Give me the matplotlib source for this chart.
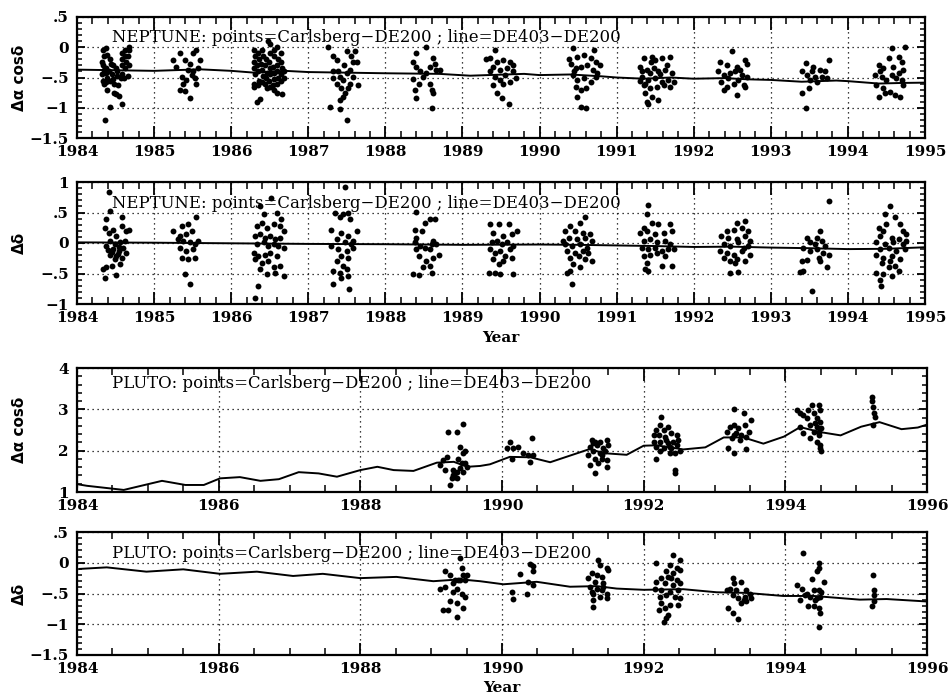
import matplotlib
matplotlib.use('Agg')
import matplotlib.pyplot as plt
from matplotlib.ticker import MultipleLocator, FuncFormatter
from matplotlib.font_manager import FontProperties

# ---------------- DATA ----------------
# Panel 1: Neptune, delta alpha cos delta (points = Carlsberg - DE200)
nep_ra_pts = [
    (1984.34, -0.05), (1984.35, -0.15), (1984.33, -0.25), (1984.34, -0.30), (1984.35, -0.38), (1984.33, -0.45),
    (1984.34, -0.55), (1984.35, -0.60), (1984.38, -0.02), (1984.39, -0.12), (1984.38, -0.35), (1984.37, -0.42),
    (1984.39, -0.50), (1984.38, -0.58), (1984.39, -0.70), (1984.36, -1.21), (1984.43, -0.98), (1984.43, -0.20),
    (1984.44, -0.28), (1984.42, -0.40), (1984.43, -0.55), (1984.47, -0.30), (1984.46, -0.45), (1984.47, -0.52),
    (1984.48, -0.60), (1984.48, -0.75), (1984.50, -0.78), (1984.52, -0.40), (1984.52, -0.48), (1984.53, -0.62),
    (1984.51, -0.35), (1984.54, -0.80), (1984.58, -0.93), (1984.58, -0.10), (1984.58, -0.20), (1984.59, -0.30),
    (1984.58, -0.45), (1984.57, -0.50), (1984.62, -0.05), (1984.62, -0.15), (1984.63, -0.25), (1984.62, -0.35),
    (1984.61, -0.50), (1984.67, 0.00), (1984.67, -0.05), (1984.66, -0.15), (1984.67, -0.30), (1984.66, -0.48),
    (1985.34, -0.10), (1985.40, -0.21), (1985.29, -0.32), (1985.47, -0.27), (1985.51, -0.10), (1985.55, -0.05),
    (1985.36, -0.49), (1985.42, -0.54), (1985.49, -0.46), (1985.53, -0.51), (1985.34, -0.71), (1985.40, -0.73),
    (1985.47, -0.84), (1985.57, -0.35), (1985.59, -0.21), (1985.25, -0.21), (1985.44, -0.37), (1985.38, -0.60),
    (1985.55, -0.60), (1985.51, -0.40),
    (1986.30, -0.05), (1986.31, -0.15), (1986.29, -0.25), (1986.30, -0.35), (1986.31, -0.45), (1986.30, -0.60),
    (1986.29, -0.65), (1986.35, -0.10), (1986.36, -0.20), (1986.34, -0.30), (1986.35, -0.40), (1986.36, -0.55),
    (1986.35, -0.62), (1986.34, -0.90), (1986.40, -0.05), (1986.41, -0.15), (1986.39, -0.28), (1986.40, -0.38),
    (1986.41, -0.48), (1986.40, -0.58), (1986.38, -0.85), (1986.45, -0.20), (1986.44, -0.30), (1986.46, -0.42),
    (1986.45, -0.50), (1986.44, -0.60), (1986.46, -0.68), (1986.48, 0.10), (1986.50, 0.05), (1986.51, -0.10),
    (1986.49, -0.25), (1986.50, -0.35), (1986.51, -0.45), (1986.49, -0.55), (1986.50, -0.65), (1986.55, -0.05),
    (1986.56, -0.15), (1986.54, -0.32), (1986.55, -0.42), (1986.56, -0.52), (1986.54, -0.62), (1986.55, -0.70),
    (1986.60, 0.00), (1986.61, -0.20), (1986.59, -0.30), (1986.60, -0.40), (1986.61, -0.50), (1986.59, -0.60),
    (1986.60, -0.75), (1986.65, -0.10), (1986.64, -0.25), (1986.66, -0.35), (1986.65, -0.45), (1986.64, -0.55),
    (1986.66, -0.78), (1986.68, -0.40), (1986.68, -0.50),
    (1987.28, -0.98), (1987.41, -1.02), (1987.50, -1.20), (1987.41, -0.87), (1987.45, -0.82), (1987.26, 0.00),
    (1987.32, -0.15), (1987.37, -0.21), (1987.50, -0.07), (1987.61, -0.07), (1987.63, -0.24), (1987.58, -0.24),
    (1987.32, -0.40), (1987.41, -0.49), (1987.45, -0.54), (1987.50, -0.43), (1987.54, -0.60), (1987.58, -0.49),
    (1987.65, -0.62), (1987.37, -0.60), (1987.43, -0.68), (1987.52, -0.68), (1987.48, -0.76), (1987.39, -0.40),
    (1987.54, -0.37), (1987.32, -0.51), (1987.46, -0.30), (1987.56, -0.15),
    (1988.40, -0.10), (1988.36, -0.24), (1988.40, -0.32), (1988.45, -0.40), (1988.36, -0.52), (1988.43, -0.60),
    (1988.38, -0.71), (1988.40, -0.84), (1988.53, 0.00), (1988.58, -0.32), (1988.62, -0.18), (1988.64, -0.27),
    (1988.66, -0.37), (1988.58, -0.60), (1988.60, -0.71), (1988.62, -0.76), (1988.60, -1.00), (1988.49, -0.49),
    (1988.53, -0.43), (1988.71, -0.37),
    (1989.42, -0.05), (1989.36, -0.18), (1989.45, -0.24), (1989.53, -0.21), (1989.62, -0.24), (1989.40, -0.32),
    (1989.49, -0.37), (1989.58, -0.35), (1989.66, -0.29), (1989.42, -0.49), (1989.49, -0.54), (1989.55, -0.46),
    (1989.62, -0.57), (1989.66, -0.40), (1989.40, -0.62), (1989.45, -0.76), (1989.51, -0.84), (1989.60, -0.94),
    (1989.36, -0.40), (1989.53, -0.60), (1989.30, -0.20), (1989.70, -0.50),
    (1990.43, -0.02), (1990.71, -0.04), (1990.49, -0.16), (1990.58, -0.13), (1990.67, -0.18), (1990.73, -0.24),
    (1990.41, -0.27), (1990.47, -0.35), (1990.54, -0.32), (1990.62, -0.29), (1990.69, -0.37), (1990.75, -0.43),
    (1990.43, -0.46), (1990.49, -0.54), (1990.58, -0.51), (1990.67, -0.57), (1990.73, -0.49), (1990.47, -0.65),
    (1990.54, -0.71), (1990.60, -0.68), (1990.49, -0.82), (1990.54, -0.98), (1990.60, -1.01), (1990.45, -0.40),
    (1990.38, -0.20), (1990.78, -0.30),
    (1991.35, -0.18), (1991.46, -0.16), (1991.50, -0.21), (1991.59, -0.18), (1991.69, -0.16), (1991.30, -0.32),
    (1991.39, -0.37), (1991.48, -0.35), (1991.54, -0.40), (1991.63, -0.37), (1991.72, -0.43), (1991.33, -0.49),
    (1991.41, -0.54), (1991.50, -0.51), (1991.59, -0.57), (1991.67, -0.54), (1991.35, -0.62), (1991.43, -0.68),
    (1991.52, -0.65), (1991.61, -0.62), (1991.37, -0.76), (1991.46, -0.82), (1991.39, -0.90), (1991.41, -0.94),
    (1991.54, -0.87), (1991.65, -0.29), (1991.74, -0.57), (1991.43, -0.43), (1991.33, -0.40), (1991.69, -0.65),
    (1991.37, -0.60), (1991.45, -0.25), (1991.56, -0.45), (1991.30, -0.55),
    (1992.49, -0.06), (1992.34, -0.24), (1992.43, -0.29), (1992.56, -0.32), (1992.67, -0.21), (1992.69, -0.27),
    (1992.32, -0.40), (1992.39, -0.46), (1992.47, -0.43), (1992.54, -0.40), (1992.62, -0.46), (1992.69, -0.49),
    (1992.36, -0.57), (1992.43, -0.65), (1992.52, -0.60), (1992.58, -0.54), (1992.65, -0.62), (1992.39, -0.71),
    (1992.56, -0.79), (1992.67, -0.66), (1992.45, -0.51), (1992.60, -0.37),
    (1993.45, -0.26), (1993.40, -0.40), (1993.47, -0.46), (1993.53, -0.40), (1993.57, -0.49), (1993.64, -0.37),
    (1993.70, -0.40), (1993.75, -0.21), (1993.51, -0.54), (1993.60, -0.57), (1993.49, -0.68), (1993.40, -0.76),
    (1993.45, -1.00), (1993.66, -0.49), (1993.55, -0.32), (1993.73, -0.51),
    (1994.57, -0.01), (1994.74, 0.00), (1994.53, -0.18), (1994.66, -0.16), (1994.70, -0.24), (1994.40, -0.29),
    (1994.46, -0.35), (1994.59, -0.32), (1994.72, -0.37), (1994.35, -0.46), (1994.44, -0.49), (1994.50, -0.54),
    (1994.57, -0.46), (1994.63, -0.51), (1994.70, -0.54), (1994.37, -0.62), (1994.46, -0.68), (1994.55, -0.74),
    (1994.61, -0.79), (1994.68, -0.82), (1994.40, -0.82), (1994.48, -0.76), (1994.72, -0.62), (1994.42, -0.40),
    (1994.66, -0.43),
]
nep_ra_line_t = [1984.0, 1984.5, 1985.0, 1985.6, 1986.0, 1986.3, 1986.7, 1987.0, 1987.5, 1988.0, 1988.7,
                 1989.1, 1989.8, 1990.0, 1990.4, 1990.8, 1991.0, 1991.35, 1991.7, 1992.0, 1992.4, 1992.7,
                 1993.0, 1993.4, 1993.85, 1994.0, 1994.4, 1994.7, 1995.0]
nep_ra_line_v = [-0.37, -0.38, -0.39, -0.365, -0.39, -0.42, -0.39, -0.41, -0.42, -0.43, -0.44,
                 -0.47, -0.44, -0.46, -0.45, -0.48, -0.50, -0.52, -0.50, -0.52, -0.51, -0.53,
                 -0.54, -0.57, -0.55, -0.56, -0.60, -0.59, -0.585]

# Panel 2: Neptune, delta delta
nep_de_pts = [
    (1984.41, 0.84), (1984.43, 0.52), (1984.38, 0.39), (1984.58, 0.42), (1984.36, 0.25), (1984.47, 0.22),
    (1984.58, 0.28), (1984.64, 0.20), (1984.67, 0.22), (1984.41, 0.17), (1984.51, 0.11), (1984.43, 0.03),
    (1984.49, -0.02), (1984.56, 0.01), (1984.62, 0.03), (1984.38, -0.05), (1984.47, -0.10), (1984.54, -0.13),
    (1984.60, -0.09), (1984.64, -0.16), (1984.43, -0.19), (1984.51, -0.21), (1984.58, -0.24), (1984.49, -0.27),
    (1984.38, -0.40), (1984.45, -0.38), (1984.56, -0.35), (1984.36, -0.57), (1984.51, -0.52), (1984.34, -0.43),
    (1984.45, -0.15), (1984.53, -0.18), (1984.40, -0.12), (1984.55, -0.06),
    (1985.25, 0.20), (1985.36, 0.28), (1985.44, 0.31), (1985.55, 0.43), (1985.34, 0.11), (1985.42, 0.14),
    (1985.49, 0.20), (1985.38, 0.03), (1985.47, 0.01), (1985.53, -0.02), (1985.34, -0.08), (1985.42, -0.13),
    (1985.51, -0.10), (1985.36, -0.24), (1985.44, -0.27), (1985.53, -0.24), (1985.40, -0.50), (1985.47, -0.67),
    (1985.31, 0.06), (1985.57, 0.03),
    (1986.31, -0.90), (1986.35, -0.70), (1986.37, 0.61), (1986.42, 0.47), (1986.52, 0.74), (1986.59, 0.50),
    (1986.65, 0.39), (1986.33, 0.28), (1986.40, 0.33), (1986.46, 0.25), (1986.55, 0.31), (1986.63, 0.28),
    (1986.68, 0.20), (1986.31, 0.11), (1986.37, 0.14), (1986.44, 0.09), (1986.50, 0.11), (1986.57, 0.06),
    (1986.63, 0.09), (1986.33, -0.02), (1986.42, 0.01), (1986.48, -0.05), (1986.55, -0.02), (1986.61, -0.05),
    (1986.68, -0.08), (1986.29, -0.16), (1986.35, -0.21), (1986.44, -0.19), (1986.50, -0.16), (1986.59, -0.21),
    (1986.31, -0.27), (1986.40, -0.32), (1986.48, -0.30), (1986.55, -0.40), (1986.63, -0.38), (1986.37, -0.43),
    (1986.46, -0.51), (1986.57, -0.49), (1986.68, -0.54),
    (1987.48, 0.91), (1987.35, 0.50), (1987.45, 0.48), (1987.54, 0.39), (1987.41, 0.42), (1987.52, 0.50),
    (1987.30, 0.22), (1987.63, 0.20), (1987.43, 0.17), (1987.52, 0.11), (1987.37, 0.06), (1987.48, 0.01),
    (1987.56, -0.02), (1987.30, -0.05), (1987.39, -0.10), (1987.50, -0.13), (1987.58, -0.09), (1987.43, -0.21),
    (1987.52, -0.24), (1987.37, -0.30), (1987.45, -0.38), (1987.32, -0.46), (1987.41, -0.49), (1987.50, -0.43),
    (1987.43, -0.57), (1987.52, -0.54), (1987.32, -0.67), (1987.53, -0.75), (1987.58, 0.03),
    (1988.40, 0.51), (1988.51, 0.33), (1988.58, 0.39), (1988.64, 0.40), (1988.38, 0.22), (1988.47, 0.20),
    (1988.40, 0.09), (1988.38, 0.01), (1988.45, -0.05), (1988.40, -0.10), (1988.51, -0.08), (1988.62, 0.03),
    (1988.66, -0.02), (1988.58, -0.10), (1988.43, -0.21), (1988.62, -0.24), (1988.69, -0.19), (1988.53, -0.30),
    (1988.49, -0.40), (1988.58, -0.38), (1988.36, -0.51), (1988.43, -0.52), (1988.60, -0.49), (1988.60, -0.02),
    (1989.36, 0.31), (1989.47, 0.31), (1989.60, 0.31), (1989.40, 0.17), (1989.53, 0.11), (1989.64, 0.14),
    (1989.71, 0.19), (1989.38, 0.01), (1989.45, 0.03), (1989.51, -0.02), (1989.58, 0.01), (1989.66, -0.05),
    (1989.36, -0.10), (1989.42, -0.16), (1989.49, -0.13), (1989.55, -0.21), (1989.64, -0.24), (1989.40, -0.27),
    (1989.53, -0.30), (1989.42, -0.49), (1989.49, -0.50), (1989.66, -0.50), (1989.34, -0.49), (1989.62, -0.10),
    (1989.47, -0.35),
    (1990.59, 0.42), (1990.53, 0.33), (1990.40, 0.28), (1990.33, 0.20), (1990.46, 0.20), (1990.57, 0.17),
    (1990.66, 0.14), (1990.38, 0.09), (1990.48, 0.06), (1990.59, 0.09), (1990.68, 0.03), (1990.33, -0.02),
    (1990.42, -0.05), (1990.53, -0.02), (1990.61, -0.08), (1990.35, -0.13), (1990.46, -0.16), (1990.57, -0.13),
    (1990.40, -0.24), (1990.51, -0.21), (1990.59, -0.27), (1990.68, -0.30), (1990.44, -0.35), (1990.53, -0.40),
    (1990.35, -0.49), (1990.40, -0.46), (1990.42, -0.67), (1990.63, -0.16), (1990.31, 0.03),
    (1991.41, 0.63), (1991.39, 0.47), (1991.35, 0.25), (1991.46, 0.33), (1991.54, 0.31), (1991.69, 0.31),
    (1991.30, 0.17), (1991.39, 0.20), (1991.50, 0.14), (1991.61, 0.17), (1991.72, 0.20), (1991.35, 0.03),
    (1991.43, 0.06), (1991.52, 0.01), (1991.63, 0.03), (1991.69, -0.02), (1991.33, -0.08), (1991.41, -0.10),
    (1991.50, -0.08), (1991.59, -0.13), (1991.67, -0.10), (1991.35, -0.21), (1991.43, -0.19), (1991.52, -0.16),
    (1991.63, -0.21), (1991.39, -0.32), (1991.37, -0.43), (1991.41, -0.46), (1991.59, -0.38), (1991.72, -0.38),
    (1991.74, -0.10),
    (1992.56, 0.33), (1992.67, 0.36), (1992.43, 0.20), (1992.52, 0.22), (1992.62, 0.25), (1992.71, 0.20),
    (1992.36, 0.11), (1992.45, 0.09), (1992.56, 0.06), (1992.67, 0.11), (1992.73, 0.03), (1992.39, -0.02),
    (1992.47, -0.05), (1992.58, 0.01), (1992.65, -0.08), (1992.71, -0.05), (1992.34, -0.13), (1992.43, -0.16),
    (1992.52, -0.19), (1992.62, -0.13), (1992.73, -0.19), (1992.39, -0.24), (1992.47, -0.30), (1992.56, -0.27),
    (1992.67, -0.30), (1992.47, -0.49), (1992.58, -0.47), (1992.54, -0.32),
    (1993.75, 0.69), (1993.64, 0.19), (1993.60, 0.09), (1993.47, 0.09), (1993.51, 0.01), (1993.57, -0.02),
    (1993.66, 0.03), (1993.42, -0.08), (1993.51, -0.13), (1993.60, -0.10), (1993.68, -0.16), (1993.75, -0.19),
    (1993.40, -0.30), (1993.47, -0.28), (1993.62, -0.24), (1993.64, -0.30), (1993.73, -0.40), (1993.38, -0.47),
    (1993.42, -0.46), (1993.53, -0.79), (1993.70, -0.05),
    (1994.55, 0.61), (1994.48, 0.47), (1994.61, 0.42), (1994.50, 0.31), (1994.68, 0.31), (1994.40, 0.25),
    (1994.46, 0.20), (1994.72, 0.19), (1994.76, 0.14), (1994.42, 0.11), (1994.57, 0.09), (1994.66, 0.06),
    (1994.37, 0.01), (1994.48, -0.02), (1994.59, 0.01), (1994.72, -0.02), (1994.76, 0.03), (1994.42, -0.10),
    (1994.53, -0.08), (1994.63, -0.13), (1994.74, -0.10), (1994.37, -0.19), (1994.46, -0.24), (1994.57, -0.21),
    (1994.68, -0.27), (1994.44, -0.32), (1994.61, -0.38), (1994.53, -0.40), (1994.37, -0.49), (1994.46, -0.51),
    (1994.57, -0.54), (1994.66, -0.46), (1994.42, -0.60), (1994.43, -0.70), (1994.55, -0.30),
]
nep_de_line_t = [1984.0, 1985.0, 1986.0, 1987.0, 1988.0, 1989.0, 1990.0, 1990.5, 1991.0, 1991.5,
                 1992.0, 1992.5, 1993.0, 1993.5, 1994.0, 1994.5, 1995.0]
nep_de_line_v = [0.01, 0.005, -0.005, -0.015, -0.02, -0.03, -0.025, -0.03, -0.04, -0.05,
                 -0.065, -0.06, -0.075, -0.085, -0.10, -0.095, -0.07]

# Panel 3: Pluto, delta alpha cos delta
plu_ra_pts = [
    (1989.12, 1.65), (1989.17, 1.77), (1989.22, 1.85), (1989.20, 1.53), (1989.24, 2.44), (1989.37, 2.44),
    (1989.45, 2.64), (1989.27, 1.17), (1989.31, 1.41), (1989.34, 1.37), (1989.36, 1.49), (1989.41, 1.57),
    (1989.43, 1.69), (1989.38, 1.81), (1989.48, 1.69), (1989.45, 1.94), (1989.41, 2.10), (1989.48, 1.98),
    (1989.31, 1.53), (1989.45, 1.49), (1989.29, 1.33), (1989.50, 1.61), (1989.36, 1.33),
    (1990.11, 2.22), (1990.23, 2.10), (1990.16, 2.06), (1990.14, 1.81), (1990.42, 2.31), (1990.30, 1.94),
    (1990.37, 1.90), (1990.40, 1.73), (1990.44, 1.90), (1990.07, 2.06),
    (1991.27, 2.26), (1991.31, 2.22), (1991.38, 2.22), (1991.48, 2.26), (1991.24, 2.10), (1991.34, 2.14),
    (1991.43, 2.06), (1991.50, 2.14), (1991.29, 1.98), (1991.38, 1.94), (1991.45, 1.98), (1991.22, 1.90),
    (1991.31, 1.81), (1991.41, 1.81), (1991.48, 1.77), (1991.24, 1.65), (1991.36, 1.69), (1991.48, 1.61),
    (1991.31, 1.45), (1991.41, 1.90), (1991.29, 2.18),
    (1992.25, 2.82), (1992.23, 2.62), (1992.18, 2.50), (1992.28, 2.50), (1992.35, 2.58), (1992.14, 2.38),
    (1992.21, 2.38), (1992.30, 2.34), (1992.39, 2.42), (1992.47, 2.38), (1992.14, 2.22), (1992.23, 2.22),
    (1992.32, 2.26), (1992.42, 2.22), (1992.49, 2.26), (1992.18, 2.10), (1992.28, 2.06), (1992.37, 2.10),
    (1992.47, 2.14), (1992.51, 1.98), (1992.23, 1.98), (1992.37, 1.94), (1992.18, 1.81), (1992.44, 1.94),
    (1992.44, 1.53), (1992.44, 1.45), (1992.35, 2.18), (1992.39, 2.06),
    (1993.27, 3.02), (1993.41, 2.90), (1993.52, 2.74), (1993.17, 2.46), (1993.22, 2.58), (1993.27, 2.62),
    (1993.33, 2.54), (1993.43, 2.62), (1993.31, 2.42), (1993.38, 2.38), (1993.48, 2.46), (1993.24, 2.30),
    (1993.36, 2.26), (1993.45, 2.34), (1993.19, 2.06), (1993.27, 1.94), (1993.45, 2.04), (1993.28, 2.38),
    (1994.16, 2.98), (1994.21, 2.90), (1994.25, 2.86), (1994.37, 3.10), (1994.47, 3.10), (1994.49, 2.98),
    (1994.30, 2.78), (1994.40, 2.90), (1994.44, 2.78), (1994.49, 2.70), (1994.21, 2.58), (1994.35, 2.62),
    (1994.44, 2.58), (1994.51, 2.54), (1994.25, 2.42), (1994.40, 2.46), (1994.47, 2.38), (1994.35, 2.30),
    (1994.44, 2.22), (1994.49, 2.14), (1994.51, 1.98), (1994.49, 2.06), (1994.42, 2.66), (1994.32, 2.98),
    (1994.47, 2.46),
    (1995.22, 3.31), (1995.23, 3.19), (1995.24, 3.06), (1995.25, 2.90), (1995.26, 2.82), (1995.24, 2.62),
]
plu_ra_line_t = [1984.0, 1984.14, 1984.66, 1985.2, 1985.53, 1985.79, 1986.02, 1986.3, 1986.59, 1986.85,
                 1987.13, 1987.41, 1987.67, 1988.0, 1988.24, 1988.47, 1988.75, 1989.08, 1989.32, 1989.51,
                 1989.69, 1989.83, 1990.11, 1990.4, 1990.68, 1990.96, 1991.24, 1991.43, 1991.76, 1992.0,
                 1992.18, 1992.56, 1992.87, 1993.13, 1993.41, 1993.69, 1993.98, 1994.21, 1994.49, 1994.78,
                 1995.07, 1995.33, 1995.64, 1995.87, 1996.0]
plu_ra_line_v = [1.19, 1.15, 1.05, 1.27, 1.17, 1.17, 1.33, 1.36, 1.27, 1.31,
                 1.48, 1.45, 1.37, 1.53, 1.61, 1.53, 1.51, 1.71, 1.73, 1.61,
                 1.63, 1.67, 1.85, 1.84, 1.72, 1.88, 2.04, 1.94, 1.90, 2.12,
                 2.13, 2.03, 2.08, 2.32, 2.32, 2.17, 2.34, 2.57, 2.45, 2.37,
                 2.58, 2.69, 2.52, 2.56, 2.63]

# Panel 4: Pluto, delta delta
plu_de_pts = [
    (1989.20, -0.13), (1989.27, -0.20), (1989.12, -0.42), (1989.20, -0.39), (1989.31, -0.33), (1989.38, -0.28),
    (1989.45, -0.20), (1989.50, -0.20), (1989.41, 0.07), (1989.43, -0.09), (1989.36, -0.42), (1989.43, -0.50),
    (1989.48, -0.55), (1989.31, -0.47), (1989.27, -0.63), (1989.36, -0.66), (1989.17, -0.77), (1989.24, -0.77),
    (1989.36, -0.88), (1989.45, -0.74), (1989.41, -0.28), (1989.34, -0.28), (1989.48, -0.28),
    (1990.14, -0.47), (1990.15, -0.59), (1990.25, -0.18), (1990.35, -0.50), (1990.40, -0.02), (1990.44, -0.06),
    (1990.44, -0.14), (1990.44, -0.36), (1990.36, -0.32),
    (1991.36, 0.04), (1991.38, -0.04), (1991.48, -0.09), (1991.50, -0.12), (1991.27, -0.17), (1991.34, -0.20),
    (1991.41, -0.23), (1991.22, -0.25), (1991.31, -0.31), (1991.43, -0.33), (1991.24, -0.39), (1991.34, -0.42),
    (1991.43, -0.39), (1991.48, -0.50), (1991.29, -0.50), (1991.38, -0.55), (1991.48, -0.58), (1991.29, -0.60),
    (1991.29, -0.72), (1991.27, -0.47), (1991.41, -0.44),
    (1992.42, 0.13), (1992.18, 0.00), (1992.51, 0.05), (1992.37, -0.04), (1992.47, -0.09), (1992.32, -0.14),
    (1992.42, -0.17), (1992.51, -0.12), (1992.25, -0.25), (1992.35, -0.23), (1992.47, -0.28), (1992.18, -0.31),
    (1992.30, -0.33), (1992.42, -0.36), (1992.51, -0.33), (1992.16, -0.43), (1992.25, -0.44), (1992.37, -0.47),
    (1992.49, -0.44), (1992.23, -0.55), (1992.32, -0.52), (1992.44, -0.55), (1992.51, -0.58), (1992.25, -0.66),
    (1992.37, -0.69), (1992.49, -0.69), (1992.21, -0.77), (1992.30, -0.74), (1992.32, -0.90), (1992.28, -0.96),
    (1992.35, -0.85), (1992.39, -0.25),
    (1993.26, -0.25), (1993.28, -0.33), (1993.38, -0.31), (1993.17, -0.44), (1993.22, -0.42), (1993.31, -0.44),
    (1993.26, -0.52), (1993.33, -0.58), (1993.45, -0.44), (1993.50, -0.50), (1993.43, -0.55), (1993.52, -0.58),
    (1993.38, -0.66), (1993.45, -0.63), (1993.19, -0.74), (1993.26, -0.82), (1993.33, -0.92), (1993.41, -0.60),
    (1994.25, 0.16), (1994.47, -0.01), (1994.47, -0.09), (1994.44, -0.13), (1994.37, -0.27), (1994.54, -0.32),
    (1994.16, -0.36), (1994.23, -0.42), (1994.30, -0.50), (1994.40, -0.44), (1994.47, -0.44), (1994.51, -0.47),
    (1994.21, -0.60), (1994.35, -0.55), (1994.44, -0.58), (1994.49, -0.55), (1994.32, -0.71), (1994.40, -0.71),
    (1994.47, -0.74), (1994.49, -0.82), (1994.47, -1.04), (1994.28, -0.52), (1994.42, -0.60),
    (1995.24, -0.20), (1995.25, -0.44), (1995.25, -0.53), (1995.25, -0.62), (1995.23, -0.71),
]
plu_de_line_t = [1984.04, 1984.42, 1984.98, 1985.5, 1986.02, 1986.54, 1987.05, 1987.47, 1988.0, 1988.51,
                 1989.03, 1989.41, 1989.69, 1990.02, 1990.49, 1990.96, 1991.34, 1991.62, 1992.0, 1992.56,
                 1993.03, 1993.45, 1993.97, 1994.4, 1995.05, 1995.43, 1996.0]
plu_de_line_v = [-0.10, -0.075, -0.145, -0.107, -0.18, -0.145, -0.215, -0.18, -0.25, -0.23,
                 -0.30, -0.27, -0.30, -0.35, -0.31, -0.39, -0.38, -0.42, -0.44, -0.43,
                 -0.48, -0.49, -0.54, -0.54, -0.60, -0.59, -0.63]

titles = ["NEPTUNE: points=Carlsberg\u2212DE200 ; line=DE403\u2212DE200",
          "NEPTUNE: points=Carlsberg\u2212DE200 ; line=DE403\u2212DE200",
          "PLUTO: points=Carlsberg\u2212DE200 ; line=DE403\u2212DE200",
          "PLUTO: points=Carlsberg\u2212DE200 ; line=DE403\u2212DE200"]
ylabels = ["\u0394\u03b1 cos\u03b4", "\u0394\u03b4", "\u0394\u03b1 cos\u03b4", "\u0394\u03b4"]

# ---------------- PLOT ----------------
W, H = 950, 696
fig = plt.figure(figsize=(W / 100, H / 100), dpi=100)

TICKFONT = FontProperties(family='DejaVu Serif', weight='bold', size=11)


def yfmt(v, pos):
    if abs(v) < 1e-9:
        return '0'
    s = '%g' % v
    if s.startswith('0.'):
        s = s[1:]
    elif s.startswith('-0.'):
        s = '-' + s[2:]
    return s.replace('-', '\u2212')


def make_ax(px_left, px_top, px_right, px_bottom):
    return fig.add_axes([px_left / W, 1 - px_bottom / H,
                         (px_right - px_left) / W, (px_bottom - px_top) / H])


panels = [
    dict(box=(77, 17, 925, 138), xlim=(1984, 1995), ylim=(-1.5, 0.5), xmaj=1, xmin=0.2, ymaj=0.5, ymin=0.1,
         pts=nep_ra_pts, lt=nep_ra_line_t, lv=nep_ra_line_v, ty=0.79, xlabel=False),
    dict(box=(77, 182, 925, 304), xlim=(1984, 1995), ylim=(-1, 1), xmaj=1, xmin=0.2, ymaj=0.5, ymin=0.1,
         pts=nep_de_pts, lt=nep_de_line_t, lv=nep_de_line_v, ty=0.79, xlabel=True),
    dict(box=(77, 368, 927, 492), xlim=(1984, 1996), ylim=(1, 4), xmaj=2, xmin=0.5, ymaj=1, ymin=0.2,
         pts=plu_ra_pts, lt=plu_ra_line_t, lv=plu_ra_line_v, ty=0.835, xlabel=False),
    dict(box=(77, 532, 927, 655), xlim=(1984, 1996), ylim=(-1.5, 0.5), xmaj=2, xmin=0.5, ymaj=0.5, ymin=0.1,
         pts=plu_de_pts, lt=plu_de_line_t, lv=plu_de_line_v, ty=0.79, xlabel=True),
]

for i, p in enumerate(panels):
    ax = make_ax(*p['box'])
    ax.set_xlim(*p['xlim'])
    ax.set_ylim(*p['ylim'])
    ax.xaxis.set_major_locator(MultipleLocator(p['xmaj']))
    ax.xaxis.set_minor_locator(MultipleLocator(p['xmin']))
    ax.yaxis.set_major_locator(MultipleLocator(p['ymaj']))
    ax.yaxis.set_minor_locator(MultipleLocator(p['ymin']))
    ax.yaxis.set_major_formatter(FuncFormatter(yfmt))
    ax.xaxis.set_major_formatter(FuncFormatter(lambda v, pos: '%d' % round(v)))
    ax.tick_params(axis='both', which='both', direction='in', top=True, right=True, colors='black')
    ax.tick_params(axis='x', which='major', length=9, width=1.3, pad=5)
    ax.tick_params(axis='x', which='minor', length=5, width=1.1)
    ax.tick_params(axis='y', which='major', length=6, width=1.3, pad=6)
    ax.tick_params(axis='y', which='minor', length=3.5, width=1.1)
    for lab in ax.get_xticklabels() + ax.get_yticklabels():
        lab.set_fontproperties(TICKFONT)
    for sp in ax.spines.values():
        sp.set_linewidth(1.6)
    ax.grid(True, which='major', linestyle=(0, (1, 3)), color='black', linewidth=0.9)

    t = [q[0] for q in p['pts']]
    v = [q[1] for q in p['pts']]
    ax.scatter(t, v, s=18, color='black', linewidths=0, zorder=3)
    ax.plot(p['lt'], p['lv'], color='black', linewidth=1.4, zorder=4)

    ax.text(0.041, p['ty'], titles[i], transform=ax.transAxes, family='DejaVu Serif',
            fontsize=11.85, ha='left', va='baseline', zorder=5)
    ax.set_ylabel(ylabels[i], family='DejaVu Sans', fontweight='bold', fontsize=11)
    ax.yaxis.set_label_coords(-0.059, 0.5)
    if p['xlabel']:
        ax.set_xlabel('Year', family='DejaVu Serif', fontweight='bold', fontsize=11, labelpad=4)

fig.savefig('out.png', dpi=100)
